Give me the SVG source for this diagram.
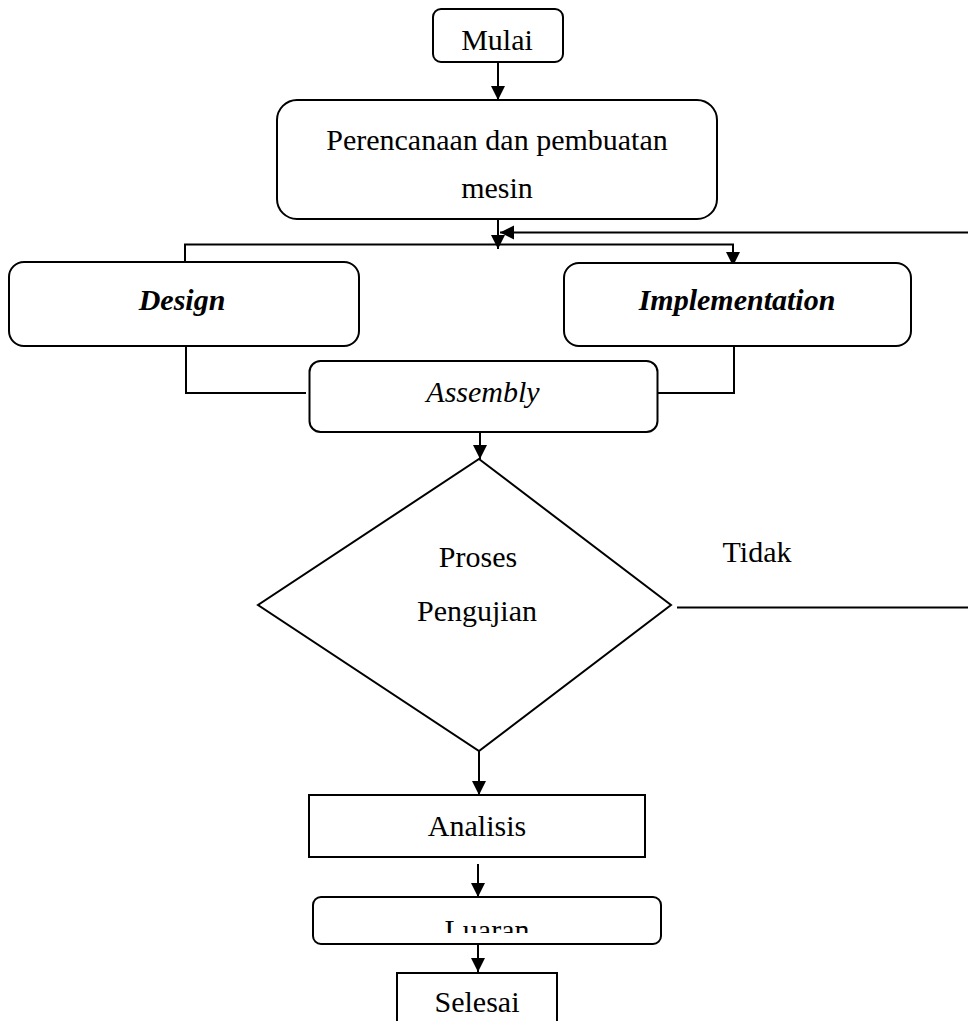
<svg xmlns="http://www.w3.org/2000/svg" width="968" height="1021" viewBox="0 0 968 1021">
<style>
.box{fill:#fff;stroke:#000;stroke-width:2}
.ln{fill:none;stroke:#000;stroke-width:2}
.t{font-family:"Liberation Serif","Times New Roman",serif;font-size:30px;fill:#000;text-anchor:middle}
.bi{font-weight:bold;font-style:italic}
.it{font-style:italic}
</style>
<defs>
<marker id="ah" markerUnits="userSpaceOnUse" markerWidth="16" markerHeight="16" refX="14" refY="7" orient="auto">
<path d="M0,0 L14,7 L0,14 Z" fill="#000"/>
</marker>
<clipPath id="clipL"><rect x="300" y="890" width="380" height="43"/></clipPath>
</defs>
<rect width="968" height="1021" fill="#fff"/>
<g id="connectors">
<line class="ln" x1="498" y1="62" x2="498" y2="100" marker-end="url(#ah)"/>
<line class="ln" x1="498" y1="219" x2="498" y2="249" marker-end="url(#ah)"/>
<polyline class="ln" points="185,262 185,244.5 733,244.5 733,266" marker-end="url(#ah)"/>
<line class="ln" x1="968" y1="232.5" x2="500" y2="232.5" marker-end="url(#ah)"/>
<polyline class="ln" points="186,346 186,393 306,393"/>
<polyline class="ln" points="734,346 734,393 658,393"/>
<line class="ln" x1="480" y1="432" x2="480" y2="459" marker-end="url(#ah)"/>
<line class="ln" x1="677" y1="607.5" x2="968" y2="607.5"/>
<line class="ln" x1="479" y1="751" x2="479" y2="795" marker-end="url(#ah)"/>
<line class="ln" x1="478" y1="864" x2="478" y2="897" marker-end="url(#ah)"/>
<line class="ln" x1="478" y1="944" x2="478" y2="972" marker-end="url(#ah)"/>
</g>
<g id="mulai">
<rect class="box" x="433" y="9" width="130" height="53" rx="8"/>
<text class="t" x="497" y="50">Mulai</text>
</g>
<g id="perencanaan">
<rect class="box" x="277" y="100" width="440" height="119" rx="20"/>
<text class="t" x="497" y="150">Perencanaan dan pembuatan</text>
<text class="t" x="497" y="198">mesin</text>
</g>
<g id="design">
<rect class="box" x="9" y="262" width="350" height="84" rx="15"/>
<text class="t bi" x="182" y="310">Design</text>
</g>
<g id="implementation">
<rect class="box" x="564" y="263" width="347" height="83" rx="15"/>
<text class="t bi" x="737" y="310">Implementation</text>
</g>
<g id="assembly">
<rect class="box" x="309.5" y="361" width="348" height="71" rx="11"/>
<text class="t it" x="483" y="402">Assembly</text>
</g>
<g id="pengujian">
<polygon class="box" points="479,459 671,605 479,751 258,605"/>
<text class="t" x="478" y="567">Proses</text>
<text class="t" x="477" y="621">Pengujian</text>
</g>
<g id="tidak">
<text class="t" x="757" y="562">Tidak</text>
</g>
<g id="analisis">
<rect class="box" x="309" y="795" width="336" height="62"/>
<text class="t" x="477" y="836">Analisis</text>
</g>
<g id="luaran">
<rect class="box" x="313" y="897" width="348" height="47" rx="8"/>
<text class="t" x="487" y="940" clip-path="url(#clipL)">Luaran</text>
</g>
<g id="selesai">
<path class="ln" d="M397,1024 V973 H557 V1024"/>
<text class="t" x="477" y="1012">Selesai</text>
</g>
</svg>
